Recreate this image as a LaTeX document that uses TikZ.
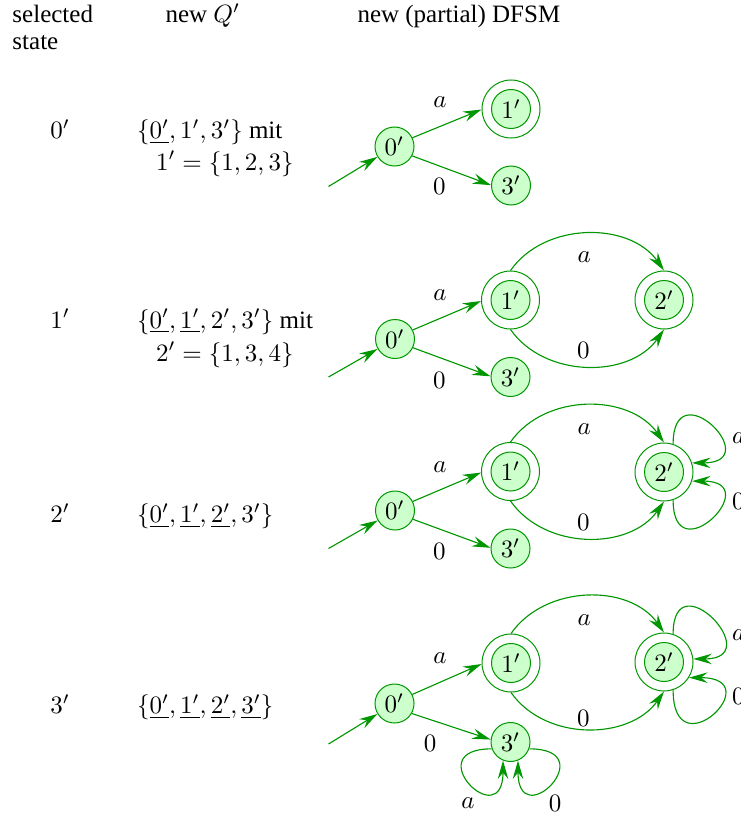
\documentclass[tikz,border=0pt]{standalone}
\usepackage[no-math]{fontspec}
\setmainfont{Liberation Serif}
\usetikzlibrary{arrows.meta}
\definecolor{edgegreen}{RGB}{0,150,0}
\definecolor{fillgreen}{RGB}{204,255,204}
\begin{document}
\begin{tikzpicture}[x=0.4pt,y=0.4pt,
  st/.style={circle,draw=edgegreen,fill=fillgreen,minimum size=15.6pt,inner sep=0pt,line width=0.4pt},
  acc/.style={circle,draw=edgegreen,minimum size=23.2pt,inner sep=0pt,line width=0.4pt},
  tr/.style={draw=edgegreen,line width=0.45pt,-{Stealth[length=7.4pt,width=4.2pt,inset=2.6pt]}},
  lbl/.style={inner sep=0pt},
  txt/.style={anchor=base west,inner sep=0pt}]
\useasboundingbox (0,0) rectangle (740,-819);

% headers
\node[txt] (h1) at (12,-23) {selected};
\node[txt] (h1b) at (12,-49.5) {state};
\node[txt] (h2) at (165,-23) {new $Q'$};
\node[txt] (h3) at (357,-23) {new (partial) DFSM};

% left column
\node[txt] (s1) at (50,-139) {$0'$};
\node[txt] (q1) at (136.5,-138.5) {$\{\underline{0'},1',3'\}$ mit};
\node[txt] (q1b) at (155.5,-170) {$1'=\{1,2,3\}$};
\node[txt] (s2) at (50,-328) {$1'$};
\node[txt] (q2) at (136.5,-328) {$\{\underline{0'},\underline{1'},2',3'\}$ mit};
\node[txt] (q2b) at (155.5,-361) {$2'=\{1,3,4\}$};
\node[txt] (s3) at (50,-522.5) {$2'$};
\node[txt] (q3) at (136.5,-522.5) {$\{\underline{0'},\underline{1'},\underline{2'},3'\}$};
\node[txt] (s4) at (50,-713.5) {$3'$};
\node[txt] (q4) at (136.5,-713.5) {$\{\underline{0'},\underline{1'},\underline{2'},\underline{3'}\}$};

% ---------- row 1
\node[st] (a0) at (394.5,-146.5) {$0'$};
\node[acc] (a1) at (511,-109) {};
\node[st] (a1i) at (a1) {$1'$};
\node[st] (a3) at (511,-185.5) {$3'$};
\coordinate (ain) at (328.5,-186.5);
\draw[tr] (ain) -- (a0);
\draw[tr] (a0.26) -- (a1.181);
\draw[tr] (a0.-28) -- (a3.179);
\node[lbl] (ala) at (440,-101.7) {$a$};
\node[lbl] (al0) at (439.3,-186.7) {$0$};

% ---------- row 2
\node[st] (b0) at (395,-339) {$0'$};
\node[acc] (b1) at (510.5,-300) {};
\node[st] (b1i) at (b1) {$1'$};
\node[acc] (b2) at (664,-300) {};
\node[st] (b2i) at (b2) {$2'$};
\node[st] (b3) at (510.5,-377) {$3'$};
\coordinate (bin) at (328.5,-377);
\draw[tr] (bin) -- (b0);
\draw[tr] (b0.27) -- (b1.182);
\draw[tr] (b0.-26) -- (b3.178);
\draw[tr] (b1.90) to[out=55,in=125] (b2.90);
\draw[tr] (b1.270) to[out=-55,in=-125] (b2.270);
\node[lbl] (bla) at (440,-295) {$a$};
\node[lbl] (bl0) at (439.3,-380) {$0$};
\node[lbl] (blaa) at (584.3,-256.7) {$a$};
\node[lbl] (bl00) at (583.3,-350.7) {$0$};

% ---------- row 3
\node[st] (c0) at (395,-510.5) {$0'$};
\node[acc] (c1) at (510.5,-471.5) {};
\node[st] (c1i) at (c1) {$1'$};
\node[acc] (c2) at (664,-472) {};
\node[st] (c2i) at (c2) {$2'$};
\node[st] (c3) at (510.5,-548.5) {$3'$};
\coordinate (cin) at (328.5,-548.5);
\draw[tr] (cin) -- (c0);
\draw[tr] (c0.27) -- (c1.182);
\draw[tr] (c0.-26) -- (c3.178);
\draw[tr] (c1.90) to[out=55,in=125] (c2.90);
\draw[tr] (c1.270) to[out=-55,in=-125] (c2.270);
\draw[tr] (c2.72) .. controls +(90:75) and +(0:75) .. (c2.18);
\draw[tr] (c2.-72) .. controls +(-90:75) and +(0:75) .. (c2.-18);
\node[lbl] (cla) at (440,-467) {$a$};
\node[lbl] (cl0) at (439.3,-551.5) {$0$};
\node[lbl] (claa) at (584.3,-428.7) {$a$};
\node[lbl] (cl00) at (583.3,-522.5) {$0$};
\node[lbl,anchor=west] (cloa) at (731.5,-438.3) {$a$};
\node[lbl,anchor=west] (clo0) at (731.5,-501.7) {$0$};

% ---------- row 4
\node[st] (d0) at (394.5,-703.5) {$0'$};
\node[acc] (d1) at (511,-663) {};
\node[st] (d1i) at (d1) {$1'$};
\node[acc] (d2) at (664,-662) {};
\node[st] (d2i) at (d2) {$2'$};
\node[st] (d3) at (510.5,-742) {$3'$};
\coordinate (din) at (328.5,-744);
\draw[tr] (din) -- (d0);
\draw[tr] (d0.27) -- (d1.182);
\draw[tr] (d0.-30) -- (d3.173);
\draw[tr] (d1.90) to[out=55,in=125] (d2.90);
\draw[tr] (d1.270) to[out=-55,in=-125] (d2.270);
\draw[tr] (d2.72) .. controls +(90:75) and +(0:75) .. (d2.6);
\draw[tr] (d2.-72) .. controls +(-90:82) and +(0:82) .. (d2.-32);
\draw[tr] (d3.200) .. controls +(180:75) and +(-90:75) .. (d3.248);
\draw[tr] (d3.-20) .. controls +(0:75) and +(-90:75) .. (d3.292);
\node[lbl] (dla) at (440,-658) {$a$};
\node[lbl] (dl0) at (430,-743.3) {$0$};
\node[lbl] (dlaa) at (584.3,-620) {$a$};
\node[lbl] (dl00) at (583.3,-718) {$0$};
\node[lbl,anchor=west] (dloa) at (731.5,-635) {$a$};
\node[lbl,anchor=west] (dlo0) at (731.5,-696.7) {$0$};
\node[lbl] (dl3a) at (468,-803) {$a$};
\node[lbl] (dl30) at (555,-803) {$0$};
\end{tikzpicture}
\end{document}
